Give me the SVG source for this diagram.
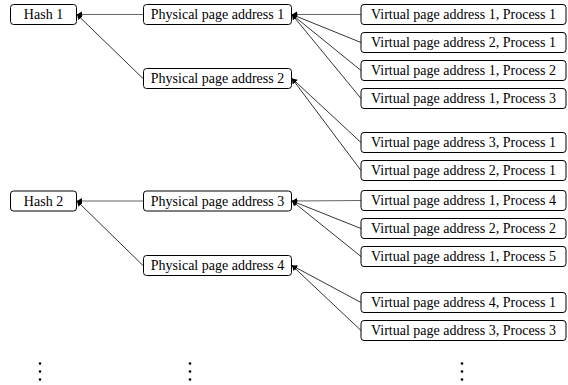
<svg xmlns="http://www.w3.org/2000/svg" width="568" height="385" viewBox="0 0 568 385">
<defs>
<marker id="ah" markerUnits="userSpaceOnUse" markerWidth="8" markerHeight="8" refX="5" refY="3" orient="auto">
<path d="M0,0 L5,3 L0,6 Z" fill="#000"/>
</marker>
<style>
.box{fill:#fff;stroke:#000;stroke-width:1}
.t{font-family:"Liberation Serif","DejaVu Serif",serif;font-size:14px;fill:#000;text-anchor:middle;dominant-baseline:central}
.c{stroke:#000;stroke-width:0.8;fill:none;marker-end:url(#ah)}
.h{stroke:#666;stroke-width:1.2;fill:none;marker-end:url(#ah)}
</style>
</defs>
<g id="connectors">
<line class="h" x1="143" y1="14.5" x2="77" y2="14.5"/>
<line class="c" x1="143" y1="78.5" x2="77" y2="14.5"/>
<line class="h" x1="143" y1="201" x2="77" y2="201"/>
<line class="c" x1="143" y1="265.5" x2="77" y2="201"/>
<line class="h" x1="361" y1="14.5" x2="292" y2="14.5"/>
<line class="c" x1="361" y1="42.5" x2="292" y2="14.5"/>
<line class="c" x1="361" y1="70.5" x2="292" y2="14.5"/>
<line class="c" x1="361" y1="98.5" x2="292" y2="14.5"/>
<line class="c" x1="361" y1="142.5" x2="292" y2="78.5"/>
<line class="c" x1="361" y1="170.5" x2="292" y2="78.5"/>
<line class="h" x1="361" y1="200.5" x2="292" y2="201"/>
<line class="c" x1="361" y1="228.5" x2="292" y2="201"/>
<line class="c" x1="361" y1="256.5" x2="292" y2="201"/>
<line class="c" x1="361" y1="302.5" x2="292" y2="265.5"/>
<line class="c" x1="361" y1="330.5" x2="292" y2="265.5"/>
</g>
<g id="hash1"><rect class="box" x="10.5" y="4.5" width="66" height="20" rx="3"/><text class="t" x="43.5" y="14.5">Hash 1</text></g>
<g id="hash2"><rect class="box" x="10.5" y="191" width="66" height="20" rx="3"/><text class="t" x="43.5" y="201">Hash 2</text></g>
<g id="ppa1"><rect class="box" x="143.5" y="4.5" width="148" height="20" rx="3"/><text class="t" x="217.5" y="14.5">Physical page address 1</text></g>
<g id="ppa2"><rect class="box" x="143.5" y="68.5" width="148" height="20" rx="3"/><text class="t" x="217.5" y="78.5">Physical page address 2</text></g>
<g id="ppa3"><rect class="box" x="143.5" y="191" width="148" height="20" rx="3"/><text class="t" x="217.5" y="201">Physical page address 3</text></g>
<g id="ppa4"><rect class="box" x="143.5" y="255.5" width="148" height="20" rx="3"/><text class="t" x="217.5" y="265.5">Physical page address 4</text></g>
<g id="v1"><rect class="box" x="361" y="4.5" width="205" height="20" rx="3"/><text class="t" x="463.5" y="14.5">Virtual page address 1, Process 1</text></g>
<g id="v2"><rect class="box" x="361" y="32.5" width="205" height="20" rx="3"/><text class="t" x="463.5" y="42.5">Virtual page address 2, Process 1</text></g>
<g id="v3"><rect class="box" x="361" y="60.5" width="205" height="20" rx="3"/><text class="t" x="463.5" y="70.5">Virtual page address 1, Process 2</text></g>
<g id="v4"><rect class="box" x="361" y="88.5" width="205" height="20" rx="3"/><text class="t" x="463.5" y="98.5">Virtual page address 1, Process 3</text></g>
<g id="v5"><rect class="box" x="361" y="132.5" width="205" height="20" rx="3"/><text class="t" x="463.5" y="142.5">Virtual page address 3, Process 1</text></g>
<g id="v6"><rect class="box" x="361" y="160.5" width="205" height="20" rx="3"/><text class="t" x="463.5" y="170.5">Virtual page address 2, Process 1</text></g>
<g id="v7"><rect class="box" x="361" y="190.5" width="205" height="20" rx="3"/><text class="t" x="463.5" y="200.5">Virtual page address 1, Process 4</text></g>
<g id="v8"><rect class="box" x="361" y="218.5" width="205" height="20" rx="3"/><text class="t" x="463.5" y="228.5">Virtual page address 2, Process 2</text></g>
<g id="v9"><rect class="box" x="361" y="246.5" width="205" height="20" rx="3"/><text class="t" x="463.5" y="256.5">Virtual page address 1, Process 5</text></g>
<g id="v10"><rect class="box" x="361" y="292.5" width="205" height="20" rx="3"/><text class="t" x="463.5" y="302.5">Virtual page address 4, Process 1</text></g>
<g id="v11"><rect class="box" x="361" y="320.5" width="205" height="20" rx="3"/><text class="t" x="463.5" y="330.5">Virtual page address 3, Process 3</text></g>
<g id="dots" fill="#000">
<circle cx="40" cy="363.5" r="1.3"/><circle cx="40" cy="371.5" r="1.3"/><circle cx="40" cy="379.5" r="1.3"/>
<circle cx="190" cy="363.5" r="1.3"/><circle cx="190" cy="371.5" r="1.3"/><circle cx="190" cy="379.5" r="1.3"/>
<circle cx="462" cy="363.5" r="1.3"/><circle cx="462" cy="371.5" r="1.3"/><circle cx="462" cy="379.5" r="1.3"/>
</g>
</svg>
